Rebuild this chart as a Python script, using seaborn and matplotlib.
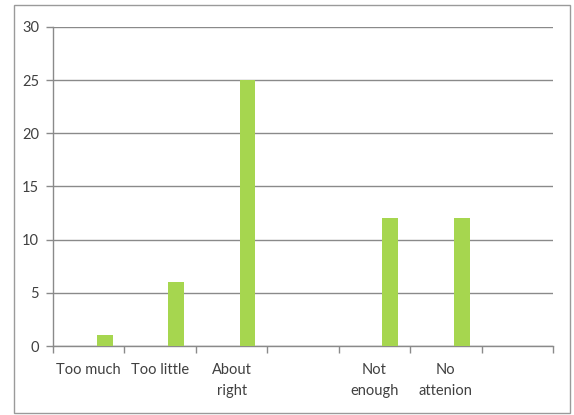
import matplotlib
matplotlib.use("Agg")
import matplotlib.pyplot as plt
from matplotlib.patches import Rectangle
import numpy as np
import pandas as pd
import seaborn as sns

# Survey responses per category (third series carries the counts)
categories = ["Too much", "Too little", "About\nright", " ", "Not\nenough", "No\nattenion", "  "]
series_names = ["Series1", "Series2", "Series3"]
series1 = [0, 0, 0, 0, 0, 0, 0]
series2 = [0, 0, 0, 0, 0, 0, 0]
series3 = [1, 6, 25, 0, 12, 12, 0]
y_ticks = [0, 5, 10, 15, 20, 25, 30]

df = pd.DataFrame({
    "category": categories * 3,
    "series": [series_names[0]] * 7 + [series_names[1]] * 7 + [series_names[2]] * 7,
    "value": series1 + series2 + series3,
})

sns.set_style("white")
plt.rcParams["font.family"] = ["Lato", "DejaVu Sans"]

fig = plt.figure(figsize=(5.74, 4.15), dpi=100)
ax = fig.add_axes([53 / 574, 1 - 346 / 415, 500 / 574, 319 / 415])

green = "#A6D64F"
sns.barplot(data=df, x="category", y="value", hue="series", order=categories,
            hue_order=series_names, palette=[green, green, green], saturation=1,
            width=0.667, linewidth=0, ax=ax, legend=False, zorder=3)

ax.set_ylim(0, 30)
ax.set_xlim(-0.5, len(categories) - 0.5)
ax.set_yticks(y_ticks)
ax.set_ylabel("")
ax.set_xlabel("")

# gridlines
ax.yaxis.grid(True, color="#8a8a8a", linewidth=1.0, zorder=0)
ax.xaxis.grid(False)
ax.set_axisbelow(True)

# category boundaries carry the tick marks, centres carry the labels
n = len(categories)
ax.set_xticks(np.arange(-0.5, n, 1.0))
ax.set_xticklabels([""] * (n + 1))
ax.set_xticks(np.arange(n), minor=True)
ax.set_xticklabels(categories, minor=True, fontsize=10.5, color="#404040",
                   linespacing=1.65)
ax.tick_params(axis="x", which="major", direction="out", length=5, width=1,
               color="#8a8a8a", bottom=True)
ax.tick_params(axis="x", which="minor", length=0, pad=12, bottom=True)
ax.tick_params(axis="y", direction="out", length=5, width=1, color="#8a8a8a",
               labelsize=10.5, labelcolor="#404040", pad=5, left=True)

for side in ["top", "right"]:
    ax.spines[side].set_visible(False)
for side in ["left", "bottom"]:
    ax.spines[side].set_color("#8a8a8a")
    ax.spines[side].set_linewidth(1.0)

# chart-area frame
fig.patches.append(Rectangle((14 / 574, 2 / 415), 556 / 574, 408 / 415,
                             transform=fig.transFigure, fill=False,
                             edgecolor="#9a9a9a", linewidth=1.0))

fig.savefig("out.png", dpi=100)
